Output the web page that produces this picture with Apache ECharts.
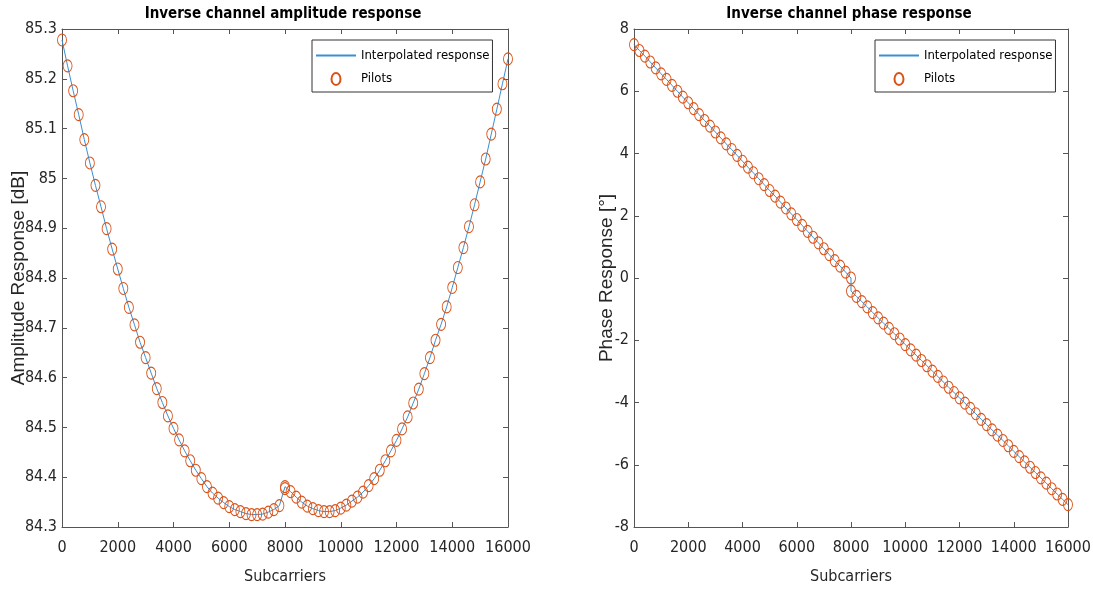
<!DOCTYPE html>
<html><head><meta charset="utf-8">
<script src="https://cdn.jsdelivr.net/npm/echarts@6/dist/echarts.min.js"></script>
<style>html,body{margin:0;padding:0;background:#fff}#c{width:1093px;height:589px}</style>
</head><body><div id="c"></div>
<script>
// ---- data ----
const subcarriers = [
  0,200,400,600,800,1000,1200,1400,1600,1800,2000,2200,2400,2600,2800,3000,3200,3400,3600,3800,
  4000,4200,4400,4600,4800,5000,5200,5400,5600,5800,6000,6200,6400,6600,6800,7000,7200,7400,7600,7800,8000,
  8000,8200,8400,8600,8800,9000,9200,9400,9600,9800,10000,10200,10400,10600,10800,11000,11200,11400,11600,11800,
  12000,12200,12400,12600,12800,13000,13200,13400,13600,13800,14000,14200,14400,14600,14800,15000,15200,15400,15600,15800,16000
];
const amplitudeDb = [
  85.278,85.226,85.176,85.128,85.078,85.031,84.986,84.943,84.899,84.858,84.818,84.779,84.741,84.706,84.671,84.640,84.609,84.578,84.550,84.523,
  84.498,84.475,84.453,84.433,84.414,84.397,84.381,84.368,84.358,84.349,84.341,84.335,84.331,84.327,84.325,84.325,84.326,84.330,84.335,84.343,84.381,
  84.377,84.371,84.360,84.350,84.342,84.337,84.333,84.331,84.331,84.333,84.338,84.344,84.352,84.360,84.370,84.383,84.397,84.414,84.433,84.453,
  84.474,84.497,84.521,84.549,84.577,84.608,84.640,84.675,84.707,84.742,84.781,84.821,84.861,84.903,84.947,84.993,85.039,85.089,85.139,85.190,85.240
];
const phaseDeg = [
  7.50,7.31,7.13,6.94,6.75,6.56,6.38,6.19,6.00,5.81,5.63,5.44,5.25,5.06,4.88,4.69,4.50,4.31,4.13,3.94,
  3.75,3.56,3.38,3.19,3.00,2.81,2.63,2.44,2.25,2.06,1.88,1.69,1.50,1.31,1.13,0.94,0.75,0.56,0.38,0.19,0.00,
  -0.42,-0.59,-0.76,-0.93,-1.11,-1.28,-1.45,-1.62,-1.79,-1.96,-2.14,-2.31,-2.48,-2.65,-2.82,-2.99,-3.16,-3.34,-3.51,-3.68,
  -3.85,-4.02,-4.19,-4.36,-4.54,-4.71,-4.88,-5.05,-5.22,-5.39,-5.57,-5.74,-5.91,-6.08,-6.25,-6.42,-6.59,-6.77,-6.94,-7.11,-7.28
];
const xRange = {min: 0, max: 16000, step: 2000};
const ampRange = {min: 84.3, max: 85.3, step: 0.1};
const phaseRange = {min: -8, max: 8, step: 2};
const titles = ['Inverse channel amplitude response', 'Inverse channel phase response'];
const seriesNames = ['Interpolated response', 'Pilots'];
const xName = 'Subcarriers';
const yNames = ['Amplitude Response [dB]', 'Phase Response [°]'];

// ---- styles ----
const NARROW = "'Liberation Sans Narrow', 'DejaVu Sans Condensed', 'Liberation Sans', sans-serif";
const AXC = '#555555';
const TXC = '#262626';
const LINEC = '#3a8fd2';
const PILOTC = '#D95319';
const ELLIPSE = 'path://M0,-4 A3,4 0 1,1 0,4 A3,4 0 1,1 0,-4 Z';

const ampPairs = subcarriers.map((x, i) => [x, amplitudeDb[i]]);
const phasePairs = subcarriers.map((x, i) => [x, phaseDeg[i]]);

function xAxisDef(grid, pos, withLabels) {
  return {
    gridIndex: grid, type: 'value', position: pos,
    min: xRange.min, max: xRange.max, interval: xRange.step,
    axisLine: {show: true, onZero: false, lineStyle: {color: AXC, width: 1}},
    axisTick: {show: true, inside: true, length: 5, lineStyle: {color: AXC}},
    axisLabel: {show: withLabels, margin: 13, color: TXC, fontFamily: NARROW, fontSize: 16,
      showMinLabel: true, showMaxLabel: true, hideOverlap: false, formatter: v => String(Math.round(v))},
    splitLine: {show: false},
    name: withLabels ? xName : '', nameLocation: 'middle', nameGap: 42, nameMoveOverlap: false,
    nameTextStyle: {color: TXC, fontFamily: NARROW, fontSize: 16}
  };
}
function yAxisDef(grid, pos, range, withLabels, name, gap, fmt) {
  return {
    gridIndex: grid, type: 'value', position: pos,
    min: range.min, max: range.max, interval: range.step,
    axisLine: {show: true, onZero: false, lineStyle: {color: AXC, width: 1}},
    axisTick: {show: true, inside: true, length: 5, lineStyle: {color: AXC}},
    axisLabel: {show: withLabels, margin: 5, color: TXC, fontFamily: NARROW, fontSize: 16, formatter: fmt,
      showMinLabel: true, showMaxLabel: true},
    splitLine: {show: false},
    name: withLabels ? name : '', nameLocation: 'middle', nameGap: gap, nameMoveOverlap: false,
    nameTextStyle: {color: TXC, fontFamily: "'Liberation Sans', Arial, sans-serif", fontSize: 19}
  };
}
const ampFmt = v => (+v).toFixed(1).replace(/\.0$/, '');
const phFmt = v => String(Math.round(v));

function legendDef(left) {
  return {
    left: left, top: 40, orient: 'vertical',
    data: [{name: seriesNames[0], itemStyle: {opacity: 0}}, {name: seriesNames[1], icon: ELLIPSE}],
    itemWidth: 40, itemHeight: 12, itemGap: 10,
    padding: [9, 3, 6, 3],
    borderColor: '#333', borderWidth: 1, backgroundColor: '#fff',
    textStyle: {color: '#000', fontFamily: NARROW, fontSize: 13},
    selectedMode: false
  };
}

function lineSeries(xi, yi, data) {
  return {name: seriesNames[0], type: 'line', xAxisIndex: xi, yAxisIndex: yi, data: data,
    symbol: 'none', showSymbol: false, lineStyle: {color: LINEC, width: 1}, itemStyle: {color: LINEC},
    animation: false, z: 2};
}
function pilotSeries(xi, yi, data) {
  return {name: seriesNames[1], type: 'scatter', xAxisIndex: xi, yAxisIndex: yi, data: data,
    symbol: ELLIPSE, symbolSize: [9, 12],
    itemStyle: {color: 'rgba(0,0,0,0)', borderColor: PILOTC, borderWidth: 1, opacity: 1},
    animation: false, z: 3};
}

const chart = echarts.init(document.getElementById('c'), null, {renderer: 'canvas'});
chart.setOption({
  animation: false,
  backgroundColor: '#fff',
  title: [
    {text: titles[0], left: 283, top: 7, textAlign: 'center', padding: 0,
     textStyle: {fontFamily: NARROW, fontSize: 15, fontWeight: 'bold', color: '#000'}},
    {text: titles[1], left: 849, top: 7, textAlign: 'center', padding: 0,
     textStyle: {fontFamily: NARROW, fontSize: 15, fontWeight: 'bold', color: '#000'}}
  ],
  legend: [legendDef(312), legendDef(875)],
  grid: [
    {left: 62, right: 585, top: 29, bottom: 62, containLabel: false, outerBoundsMode: 'none'},
    {left: 634, right: 25, top: 29, bottom: 62, containLabel: false, outerBoundsMode: 'none'}
  ],
  xAxis: [xAxisDef(0, 'bottom', true), xAxisDef(0, 'top', false), xAxisDef(1, 'bottom', true), xAxisDef(1, 'top', false)],
  yAxis: [
    yAxisDef(0, 'left', ampRange, true, yNames[0], 34, ampFmt),
    yAxisDef(0, 'right', ampRange, false, '', 0, ampFmt),
    yAxisDef(1, 'left', phaseRange, true, yNames[1], 18, phFmt),
    yAxisDef(1, 'right', phaseRange, false, '', 0, phFmt)
  ],
  series: [
    lineSeries(0, 0, ampPairs), pilotSeries(0, 0, ampPairs),
    lineSeries(2, 2, phasePairs), pilotSeries(2, 2, phasePairs)
  ]
});
</script></body></html>
